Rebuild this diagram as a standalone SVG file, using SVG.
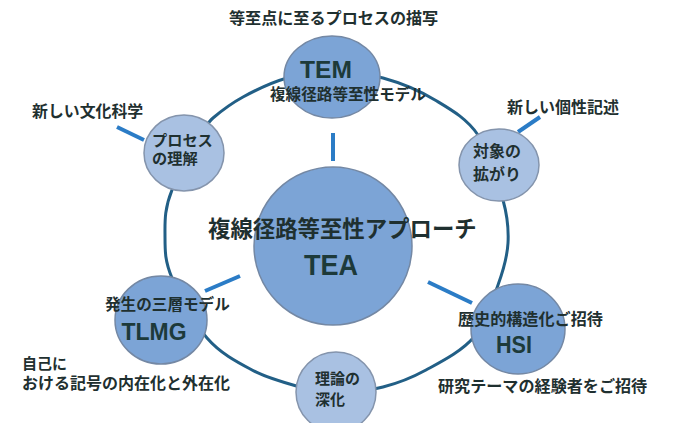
<svg xmlns="http://www.w3.org/2000/svg" width="674" height="423" viewBox="0 0 674 423">
<style>
.bg{fill:#ffffff}
.ring{fill:none;stroke:#225f86;stroke-width:3}
.spoke{stroke:#2b7cc6;stroke-width:4;stroke-linecap:butt}
.big{fill:#7ca4d6;stroke:#7488a4;stroke-width:1.5}
.small{fill:#a9c1e2;stroke:#8494ac;stroke-width:1.5}
.jp{font-family:"Liberation Sans","Noto Sans CJK JP",sans-serif;font-weight:bold;fill:#1f3030}
.lat{font-family:"Liberation Sans","Noto Sans CJK JP",sans-serif;font-weight:bold;fill:#1d3a3a}
</style>
<rect class="bg" x="0" y="0" width="674" height="423"/>
<g id="connectors">
<path class="ring" d="M332,72 C348,72 365.8,73.3 383,78 C400.2,82.7 419.2,90.5 435,100 C450.8,109.5 466.7,118.3 478,135 C489.3,151.7 498,182 503,200 C508,218 508.8,228.8 508,243 C507.2,257.2 503.7,269.3 498,285 C492.3,300.7 486,322.8 474,337 C462,351.2 441.2,361.7 426,370 C410.8,378.3 398,383.2 383,387 C368,390.8 349.8,393 336,393 C322.2,393 314,390.8 300,387 C286,383.2 267.5,378.2 252,370 C236.5,361.8 220.3,353.3 207,338 C193.7,322.7 179,294.8 172,278 C165,261.2 165,251.7 165,237 C165,222.3 164,209.8 172,190 C180,170.2 203,126.5 213,118 C223,109.5 230.7,103.7 243,97 C255.3,90.3 272.2,82.2 287,78 C301.8,73.8 316,72 332,72 Z"/>
<line class="spoke" x1="333" y1="133" x2="333" y2="161"/>
<line class="spoke" x1="117" y1="127" x2="144" y2="140"/>
<line class="spoke" x1="518" y1="132" x2="540" y2="117"/>
<line class="spoke" x1="205" y1="291" x2="240" y2="276"/>
<line class="spoke" x1="428" y1="282" x2="472" y2="303"/>
</g>
<g id="tea">
<circle class="big" cx="333" cy="246" r="79"/>
<text class="jp" x="208" y="236.5" font-size="22.4">複線径路等至性アプローチ</text>
<text class="lat" x="331" y="275" font-size="30" text-anchor="middle" textLength="54" lengthAdjust="spacingAndGlyphs">TEA</text>
</g>
<g id="tem">
<ellipse class="big" cx="332" cy="77" rx="48" ry="41"/>
<text class="lat" x="326" y="78" font-size="23" text-anchor="middle" textLength="52" lengthAdjust="spacingAndGlyphs">TEM</text>
<text class="jp" x="270" y="100" font-size="15.6">複線径路等至性モデル</text>
<text class="jp" x="229" y="24" font-size="16.1">等至点に至るプロセスの描写</text>
</g>
<g id="process">
<ellipse class="small" cx="184" cy="153" rx="40" ry="38"/>
<text class="jp" x="152" y="146" font-size="15.2">プロセス</text>
<text class="jp" x="152" y="164" font-size="15.2">の理解</text>
<text class="jp" x="32" y="117" font-size="15.9">新しい文化科学</text>
</g>
<g id="taisho">
<ellipse class="small" cx="499" cy="165" rx="40" ry="36"/>
<text class="jp" x="473" y="157" font-size="16">対象の</text>
<text class="jp" x="473" y="180" font-size="16">拡がり</text>
<text class="jp" x="507" y="113" font-size="16">新しい個性記述</text>
</g>
<g id="tlmg">
<ellipse class="big" cx="161" cy="320" rx="46" ry="44"/>
<text class="jp" x="105" y="310" font-size="15.6">発生の三層モデル</text>
<text class="lat" x="154" y="340" font-size="24" text-anchor="middle" textLength="65" lengthAdjust="spacingAndGlyphs">TLMG</text>
<text class="jp" x="22" y="369" font-size="15">自己に</text>
<text class="jp" x="22" y="389" font-size="16">おける記号の内在化と外在化</text>
</g>
<g id="hsi">
<ellipse class="big" cx="518" cy="329" rx="47" ry="45"/>
<text class="jp" x="458" y="325" font-size="16.1">歴史的構造化ご招待</text>
<text class="lat" x="514" y="353" font-size="23" text-anchor="middle" textLength="36" lengthAdjust="spacingAndGlyphs">HSI</text>
<text class="jp" x="438" y="392" font-size="16.1">研究テーマの経験者をご招待</text>
</g>
<g id="riron">
<circle class="small" cx="336" cy="392" r="40"/>
<text class="jp" x="315" y="384" font-size="15">理論の</text>
<text class="jp" x="315" y="405" font-size="15">深化</text>
</g>
</svg>
